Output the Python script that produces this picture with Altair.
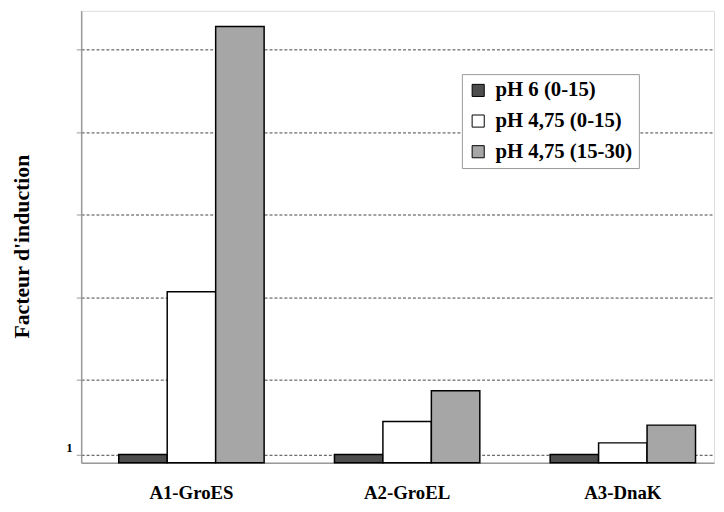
import altair as alt
import pandas as pd

categories = ["A1-GroES", "A2-GroEL", "A3-DnaK"]
series = ["pH 6 (0-15)", "pH 4,75 (0-15)", "pH 4,75 (15-30)"]
ph6 = [1.0, 1.0, 1.0]
ph475_a = [20.7, 5.0, 2.4]
ph475_b = [52.8, 8.7, 4.55]
grid_values = [1, 10, 20, 30, 40, 50]
colors = ["#4d4d4d", "#ffffff", "#a6a6a6"]

rows = []
for s, vals in zip(series, [ph6, ph475_a, ph475_b]):
    for c, v in zip(categories, vals):
        rows.append({"gene": c, "serie": s, "val": v, "order": series.index(s)})
df = pd.DataFrame(rows)

font = "'Times New Roman', 'Liberation Serif', Times, serif"

chart = alt.Chart(df).mark_bar(stroke="black", strokeWidth=1.5).encode(
    x=alt.X("gene:N", sort=categories, title=None,
            scale=alt.Scale(paddingInner=0.326, paddingOuter=0.13, align=0.67),
            axis=alt.Axis(labelAngle=0, labelFont=font, labelFontSize=19, labelFontWeight="bold",
                          labelColor="black", labelPadding=21, ticks=False,
                          domainColor="#999999", domainWidth=1.5)),
    xOffset=alt.XOffset("serie:N", sort=series, scale=alt.Scale(paddingInner=0, paddingOuter=0)),
    y=alt.Y("val:Q", scale=alt.Scale(domain=[0, 54.7], nice=False, zero=True),
            title="Facteur d'induction",
            axis=alt.Axis(values=grid_values, labelExpr="datum.value == 1 ? '1' : ''",
                          labelFont=font, labelFontSize=13, labelFontWeight="bold", labelColor="black",
                          labelPadding=4, labelBaseline="bottom",
                          tickSize=5, tickColor="#999999",
                          grid=True, gridColor="#444444", gridDash=[3, 2], gridWidth=1,
                          domainColor="#999999", domainWidth=1.5,
                          titleFont=font, titleFontSize=22, titleFontWeight="bold", titleColor="black",
                          titleAngle=270, titleX=-60, titleY=238, titleAlign="center",
                          titleBaseline="middle")),
    color=alt.Color("serie:N", sort=series,
                    scale=alt.Scale(domain=series, range=colors),
                    legend=alt.Legend(title=None, orient="none", legendX=385, legendY=64,
                                      labelFont=font, labelFontSize=21, labelFontWeight="bold",
                                      labelColor="black", symbolType="square", symbolSize=150,
                                      symbolStrokeColor="black", symbolStrokeWidth=1,
                                      symbolOpacity=1, rowPadding=9, padding=6,
                                      fillColor="white", strokeColor="#999999",
                                      cornerRadius=0, labelOffset=7)),
    order=alt.Order("order:Q"),
).properties(
    width=640, height=457,
    autosize=alt.AutoSizeParams(type="none"),
    padding={"left": 74, "top": 0, "right": 2, "bottom": 47},
).configure_view(stroke=None).configure(background="white")

chart.save("out.html", embed_options={"renderer": "svg", "actions": False})
